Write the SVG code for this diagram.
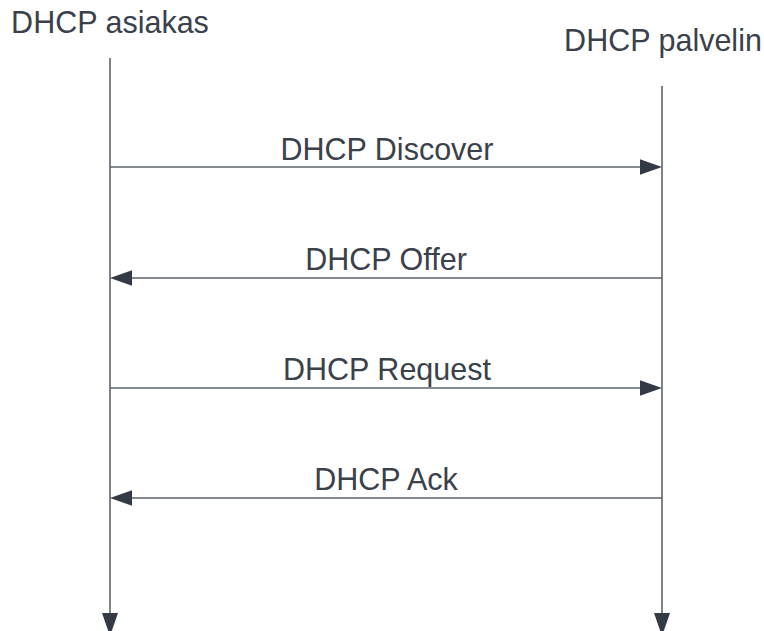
<svg xmlns="http://www.w3.org/2000/svg" width="764" height="631" viewBox="0 0 764 631">
<style>
text{font-family:"Liberation Sans",Arial,sans-serif;font-size:30.5px;fill:#3a414a}
.lbl{text-anchor:middle}
.ln{stroke:#5e646d;stroke-width:1.6;fill:none}
.hd{fill:#333a45}
</style>
<rect width="764" height="631" fill="#fff"/>
<g id="client">
<text x="110" y="33" class="lbl">DHCP asiakas</text>
</g>
<g id="server">
<text x="663" y="51" class="lbl">DHCP palvelin</text>
</g>
<g id="connectors">
<line class="ln" x1="110" y1="58" x2="110" y2="615"/>
<polygon class="hd" points="102,613 118,613 110,636"/>
<line class="ln" x1="662" y1="86" x2="662" y2="615"/>
<polygon class="hd" points="654,613 670,613 662,636"/>
<line class="ln" x1="110" y1="167" x2="642" y2="167"/>
<polygon class="hd" points="640,159.3 640,174.7 662,167"/>
<line class="ln" x1="130" y1="278" x2="662" y2="278"/>
<polygon class="hd" points="132,270.3 132,285.7 110,278"/>
<line class="ln" x1="110" y1="388" x2="642" y2="388"/>
<polygon class="hd" points="640,380.3 640,395.7 662,388"/>
<line class="ln" x1="130" y1="498" x2="662" y2="498"/>
<polygon class="hd" points="132,490.3 132,505.7 110,498"/>
</g>
<g id="labels">
<text x="387" y="160" class="lbl">DHCP Discover</text>
<text x="386" y="270" class="lbl">DHCP Offer</text>
<text x="387" y="380" class="lbl">DHCP Request</text>
<text x="386" y="490" class="lbl">DHCP Ack</text>
</g>
</svg>
